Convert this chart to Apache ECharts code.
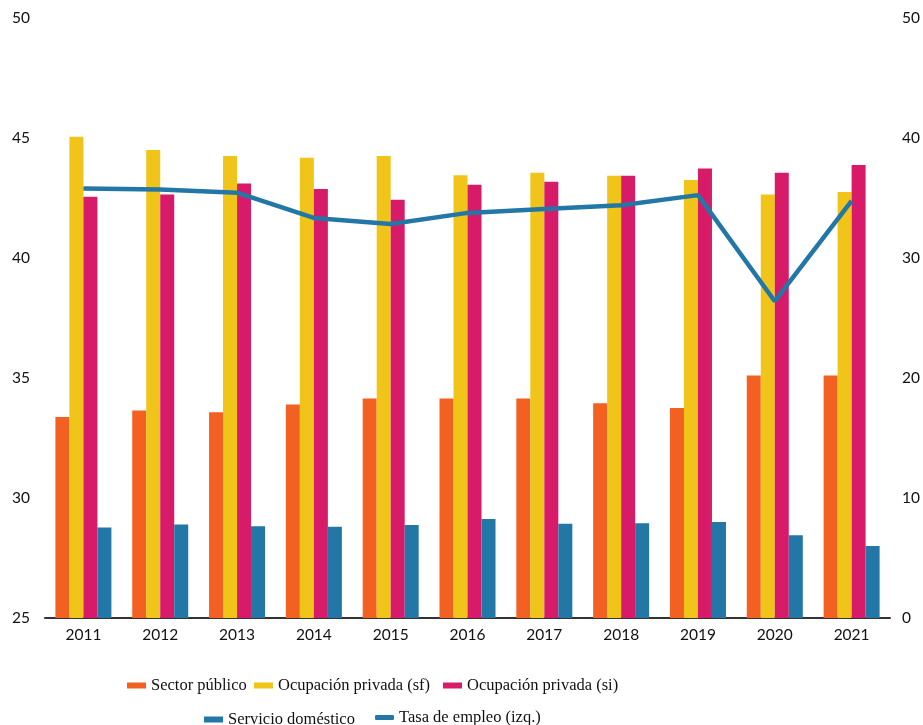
<!DOCTYPE html>
<html>
<head>
<meta charset="utf-8">
<script src="https://cdn.jsdelivr.net/npm/echarts@6/dist/echarts.min.js"></script>
<style>
html,body{margin:0;padding:0;background:#fff;}
#c{width:923px;height:725px;}
</style>
</head>
<body>
<div id="c"></div>
<script>
const years = ['2011','2012','2013','2014','2015','2016','2017','2018','2019','2020','2021'];
const sectorPublico = [16.75, 17.3, 17.15, 17.8, 18.3, 18.3, 18.3, 17.9, 17.5, 20.2, 20.2];
const ocupPrivadaSf = [40.1, 39.0, 38.5, 38.35, 38.5, 36.9, 37.1, 36.85, 36.5, 35.3, 35.5];
const ocupPrivadaSi = [35.1, 35.3, 36.2, 35.75, 34.85, 36.1, 36.35, 36.85, 37.45, 37.1, 37.75];
const servicioDomestico = [7.55, 7.8, 7.65, 7.6, 7.75, 8.25, 7.85, 7.9, 8.0, 6.9, 6.0];
const tasaEmpleo = [42.9, 42.85, 42.72, 41.67, 41.42, 41.88, 42.04, 42.2, 42.62, 38.2, 42.38];
const leftTicks = {min: 25, max: 50, interval: 5};
const rightTicks = {min: 0, max: 50, interval: 10};

const names = ['Sector público','Ocupación privada (sf)','Ocupación privada (si)','Servicio doméstico','Tasa de empleo (izq.)'];
const colors = ['#F26122','#F0C419','#D81B68','#2277A6','#2277A6'];

const chart = echarts.init(document.getElementById('c'), null, {renderer:'canvas'});
const legendText = {fontFamily:'Liberation Serif', fontSize:16.5, color:'#111'};
function lg(name, left, top, icon, h){
  return {data:[name], left:left, top:top, icon:icon||'rect', itemWidth:19, itemHeight:h||6, itemGap:0,
          textStyle:legendText, padding:0, selectedMode:false};
}
const option = {
  animation:false,
  color: colors,
  grid:{left:45, right:30, top:18, bottom:107, containLabel:false},
  legend:[
    lg(names[0], 127, 677),
    lg(names[1], 254, 677),
    lg(names[2], 443, 677),
    lg(names[3], 204, 711),
    lg(names[4], 375, 709, 'roundRect', 5)
  ],
  xAxis:{
    type:'category', data:years,
    axisLine:{lineStyle:{color:'#333', width:2}},
    axisTick:{show:false},
    axisLabel:{fontFamily:'Lato', fontSize:15.5, color:'#111', margin:9}
  },
  yAxis:[
    {type:'value', min:leftTicks.min, max:leftTicks.max, interval:leftTicks.interval, position:'left',
     splitLine:{show:false}, axisLine:{show:false}, axisTick:{show:false},
     axisLabel:{fontFamily:'Lato', fontSize:15.5, color:'#111', margin:15}},
    {type:'value', min:rightTicks.min, max:rightTicks.max, interval:rightTicks.interval, position:'right',
     splitLine:{show:false}, axisLine:{show:false}, axisTick:{show:false},
     axisLabel:{fontFamily:'Lato', fontSize:15.5, color:'#111', margin:12}}
  ],
  series:[
    {name:names[0], type:'bar', yAxisIndex:1, data:sectorPublico, barWidth:14, barGap:'0%', itemStyle:{color:colors[0]}},
    {name:names[1], type:'bar', yAxisIndex:1, data:ocupPrivadaSf, barWidth:14, barGap:'0%', itemStyle:{color:colors[1]}},
    {name:names[2], type:'bar', yAxisIndex:1, data:ocupPrivadaSi, barWidth:14, barGap:'0%', itemStyle:{color:colors[2]}},
    {name:names[3], type:'bar', yAxisIndex:1, data:servicioDomestico, barWidth:14, barGap:'0%', itemStyle:{color:colors[3]}},
    {name:names[4], type:'line', yAxisIndex:0, data:tasaEmpleo, showSymbol:false, symbol:'none',
     lineStyle:{color:colors[4], width:4.5}, itemStyle:{color:colors[4]}, z:5}
  ]
};
chart.setOption(option);
</script>
</body>
</html>
